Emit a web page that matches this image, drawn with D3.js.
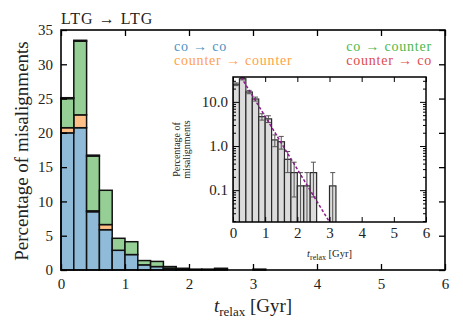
<!DOCTYPE html>
<html>
<head>
<meta charset="utf-8">
<script src="https://cdn.jsdelivr.net/npm/d3@7"></script>
<style>
  body { margin: 0; background: #fff; }
</style>
</head>
<body>
<svg id="chart" width="463" height="331"></svg>
<script>
// bin starts in Gyr (bins are 0.2 Gyr wide)
const binStart = [0, 0.2, 0.4, 0.6, 0.8, 1.0, 1.2, 1.4, 1.6, 1.8, 2.0, 2.2, 2.4, 2.6, 2.8, 3.0];
const binWidth = 0.2;

// percentage of misalignments per transition type
const coCo           = [20.0, 20.75, 8.5, 5.875, 2.875, 2.25, 0.75, 0.5, 0.25, 0.125, 0.125, 0, 0.125, 0, 0, 0.125];
const counterCounter = [0.75, 1.875, 0.125, 0.75, 0, 0, 0, 0, 0, 0, 0, 0, 0, 0, 0, 0];
const coCounter      = [4.25, 10.75, 8.0, 5.0, 1.75, 1.875, 0.625, 0.75, 0.25, 0.125, 0, 0.125, 0.125, 0, 0, 0];
const counterCo      = [0.125, 0.125, 0.125, 0, 0, 0, 0, 0, 0, 0, 0, 0, 0, 0, 0, 0];

// inset error bars on the total
const totalErr = [1.77, 2.05, 1.45, 1.2, 0.76, 0.72, 0.41, 0.40, 0.25, 0.18, 0.125, 0.125, 0.18, 0, 0, 0.125];

// exponential fit, straight on the log axis
const fitLine = [{ t: 0.25, pct: 36.6 }, { t: 3.0, pct: 0.019 }];

const mainXTicks = [0, 1, 2, 3, 4, 5, 6];
const mainYTicks = [0, 5, 10, 15, 20, 25, 30, 35];
const insetYTicks = [0.1, 1, 10];
const insetYMinor = [0.02, 0.03, 0.04, 0.05, 0.06, 0.07, 0.08, 0.09,
                     0.2, 0.3, 0.4, 0.5, 0.6, 0.7, 0.8, 0.9,
                     2, 3, 4, 5, 6, 7, 8, 9, 20, 30];

const series = [
  { key: "coCo", label: "co \u2192 co", values: coCo, fill: "#8fbbd9", text: "#4c92c3" },
  { key: "counterCounter", label: "counter \u2192 counter", values: counterCounter, fill: "#ffbf86", text: "#ff9f4a" },
  { key: "coCounter", label: "co \u2192 counter", values: coCounter, fill: "#95cf95", text: "#4cb84c" },
  { key: "counterCo", label: "counter \u2192 co", values: counterCo, fill: "#ea9393", text: "#de4b4b" }
];

const FONT = "'Liberation Serif', 'DejaVu Serif', serif";

const svg = d3.select("#chart");
const width = 463, height = 331;
const margin = { top: 30, right: 18, bottom: 61, left: 61 };

const table = binStart.map((t, i) => {
  const row = { t: t };
  series.forEach(s => row[s.key] = s.values[i]);
  return row;
});
const totals = table.map(r => d3.sum(series, s => r[s.key]));

// scales
const x = d3.scaleLinear().domain([0, 6]).range([margin.left, width - margin.right]);
const y = d3.scaleLinear().domain([0, 35]).range([height - margin.bottom, margin.top]);

// stacked bars
const stacked = d3.stack().keys(series.map(s => s.key))(table);
const colorOf = d3.scaleOrdinal().domain(series.map(s => s.key)).range(series.map(s => s.fill));

svg.append("g")
  .selectAll("g")
  .data(stacked)
  .join("g")
  .attr("fill", d => colorOf(d.key))
  .selectAll("rect")
  .data(d => d.filter(p => p[1] - p[0] > 0))
  .join("rect")
  .attr("x", d => x(d.data.t))
  .attr("width", x(binWidth) - x(0))
  .attr("y", d => y(d[1]))
  .attr("height", d => y(d[0]) - y(d[1]))
  .attr("stroke", "#111")
  .attr("stroke-width", 1.5);

// axes, ticks inside
function styleAxis(g) {
  g.select(".domain").remove();
  g.selectAll(".tick line").attr("stroke", "#000").attr("stroke-width", 1.3);
  g.selectAll("text").style("font-size", "15px").style("font-family", FONT).attr("fill", "#222");
}
svg.append("g")
  .attr("transform", `translate(0,${height - margin.bottom})`)
  .call(d3.axisBottom(x).tickValues(mainXTicks).tickSize(-6).tickPadding(8).tickFormat(d3.format("d")))
  .call(styleAxis);
svg.append("g")
  .attr("transform", `translate(0,${margin.top})`)
  .call(d3.axisTop(x).tickValues(mainXTicks).tickSize(-6).tickFormat(""))
  .call(styleAxis);
svg.append("g")
  .attr("transform", `translate(${margin.left},0)`)
  .call(d3.axisLeft(y).tickValues(mainYTicks).tickSize(-6).tickPadding(8))
  .call(styleAxis);
svg.append("g")
  .attr("transform", `translate(${width - margin.right},0)`)
  .call(d3.axisRight(y).tickValues(mainYTicks).tickSize(-6).tickFormat(""))
  .call(styleAxis);

svg.append("rect")
  .attr("x", margin.left).attr("y", margin.top)
  .attr("width", width - margin.left - margin.right)
  .attr("height", height - margin.top - margin.bottom)
  .attr("fill", "none").attr("stroke", "#000").attr("stroke-width", 1.6);

// title
svg.append("text")
  .attr("x", margin.left).attr("y", 24)
  .style("font-family", FONT)
  .style("font-size", "16px")
  .style("letter-spacing", "1px")
  .attr("fill", "#222")
  .text("LTG \u2192 LTG");

// legend text
series.forEach((s, i) => {
  const right = i >= 2;
  svg.append("text")
    .attr("x", right ? 432 : 174)
    .attr("y", i % 2 === 0 ? 51 : 65)
    .attr("text-anchor", right ? "end" : "start")
    .style("font-family", FONT)
    .style("font-size", "14px")
    .style("letter-spacing", "0.8px")
    .style("fill", s.text)
    .text(s.label);
});

// axis labels
svg.append("text")
  .attr("text-anchor", "middle")
  .attr("transform", "rotate(-90)")
  .attr("x", -(margin.top + height - margin.bottom) / 2 - 1)
  .attr("y", 28)
  .style("font-family", FONT)
  .style("font-size", "19px")
  .attr("fill", "#222")
  .text("Percentage of misalignments");

const xl = svg.append("text")
  .attr("text-anchor", "middle")
  .attr("x", (margin.left + width - margin.right) / 2)
  .attr("y", 312)
  .style("font-family", FONT)
  .style("font-size", "19px")
  .attr("fill", "#222");
xl.append("tspan").style("font-style", "italic").text("t");
xl.append("tspan").attr("dy", 4).style("font-size", "13px").text("relax");
xl.append("tspan").attr("dy", -4).text(" [Gyr]");

// ---------- inset ----------
const inset = { left: 233, right: 426, top: 77, bottom: 222 };
const ix = d3.scaleLinear().domain([0, 6]).range([inset.left, inset.right]);
const iy = d3.scaleLog().domain([0.019, 36.6]).range([inset.bottom, inset.top]);

svg.append("rect")
  .attr("x", inset.left).attr("y", inset.top)
  .attr("width", inset.right - inset.left).attr("height", inset.bottom - inset.top)
  .attr("fill", "#fff");

svg.append("clipPath").attr("id", "insetClip")
  .append("rect")
  .attr("x", inset.left).attr("y", inset.top)
  .attr("width", inset.right - inset.left).attr("height", inset.bottom - inset.top);

const ig = svg.append("g").attr("clip-path", "url(#insetClip)");

const insetData = binStart.map((t, i) => ({ t: t, total: totals[i], err: totalErr[i] }))
  .filter(d => d.total > 0);

ig.selectAll("rect.ibar")
  .data(insetData)
  .join("rect")
  .attr("class", "ibar")
  .attr("x", d => ix(d.t))
  .attr("width", ix(binWidth) - ix(0))
  .attr("y", d => iy(d.total))
  .attr("height", d => inset.bottom + 5 - iy(d.total))
  .attr("fill", "#dcdcdc")
  .attr("stroke", "#2a2a2a")
  .attr("stroke-width", 1.2);

// error bars
const lowVal = d => Math.max(d.total - d.err, 0.001);
const eb = ig.selectAll("g.err")
  .data(insetData)
  .join("g")
  .attr("class", "err")
  .attr("stroke", "#555")
  .attr("stroke-width", 1);
eb.append("line")
  .attr("x1", d => ix(d.t + binWidth / 2)).attr("x2", d => ix(d.t + binWidth / 2))
  .attr("y1", d => iy(d.total + d.err)).attr("y2", d => iy(lowVal(d)));
eb.append("line")
  .attr("x1", d => ix(d.t + binWidth / 2) - 2.5).attr("x2", d => ix(d.t + binWidth / 2) + 2.5)
  .attr("y1", d => iy(d.total + d.err)).attr("y2", d => iy(d.total + d.err));
eb.append("line")
  .attr("x1", d => ix(d.t + binWidth / 2) - 2.5).attr("x2", d => ix(d.t + binWidth / 2) + 2.5)
  .attr("y1", d => iy(lowVal(d))).attr("y2", d => iy(lowVal(d)));

// fit line
ig.append("path")
  .datum(fitLine)
  .attr("d", d3.line().x(d => ix(d.t)).y(d => iy(d.pct)))
  .attr("fill", "none")
  .attr("stroke", "#8b1a8b")
  .attr("stroke-width", 1.5)
  .attr("stroke-dasharray", "3,2");

// inset axes
function styleInset(g) {
  g.select(".domain").remove();
  g.selectAll(".tick line").attr("stroke", "#000").attr("stroke-width", 1);
  g.selectAll("text").style("font-size", "15px").style("font-family", FONT).attr("fill", "#222");
}
svg.append("g")
  .attr("transform", `translate(0,${inset.bottom})`)
  .call(d3.axisBottom(ix).tickValues(mainXTicks).tickSize(-5).tickPadding(5).tickFormat(d3.format("d")))
  .call(styleInset);
svg.append("g")
  .attr("transform", `translate(0,${inset.top})`)
  .call(d3.axisTop(ix).tickValues(mainXTicks).tickSize(-5).tickFormat(""))
  .call(styleInset);
svg.append("g")
  .attr("transform", `translate(${inset.left},0)`)
  .call(d3.axisLeft(iy).tickValues(insetYTicks).tickSize(-6).tickPadding(5).tickFormat(d3.format(".1f")))
  .call(styleInset);
svg.append("g")
  .attr("transform", `translate(${inset.left},0)`)
  .call(d3.axisLeft(iy).tickValues(insetYMinor).tickSize(-3).tickFormat(""))
  .call(styleInset);
svg.append("g")
  .attr("transform", `translate(${inset.right},0)`)
  .call(d3.axisRight(iy).tickValues(insetYTicks).tickSize(-6).tickFormat(""))
  .call(styleInset);
svg.append("g")
  .attr("transform", `translate(${inset.right},0)`)
  .call(d3.axisRight(iy).tickValues(insetYMinor).tickSize(-3).tickFormat(""))
  .call(styleInset);

svg.append("rect")
  .attr("x", inset.left).attr("y", inset.top)
  .attr("width", inset.right - inset.left).attr("height", inset.bottom - inset.top)
  .attr("fill", "none").attr("stroke", "#000").attr("stroke-width", 1.5);

const ixl = svg.append("text")
  .attr("text-anchor", "middle")
  .attr("x", (inset.left + inset.right) / 2)
  .attr("y", 257)
  .style("font-family", FONT)
  .style("font-size", "10.5px")
  .attr("fill", "#222");
ixl.append("tspan").style("font-style", "italic").text("t");
ixl.append("tspan").attr("dy", 2.5).style("font-size", "8px").text("relax");
ixl.append("tspan").attr("dy", -2.5).text(" [Gyr]");

const iyl = svg.append("text")
  .attr("text-anchor", "middle")
  .attr("transform", "rotate(-90)")
  .style("font-family", FONT)
  .style("font-size", "10px")
  .attr("fill", "#222");
iyl.append("tspan").attr("x", -(inset.top + inset.bottom) / 2).attr("y", 180).text("Percentage of");
iyl.append("tspan").attr("x", -(inset.top + inset.bottom) / 2).attr("y", 190).text("misalignments");
</script>
</body>
</html>
